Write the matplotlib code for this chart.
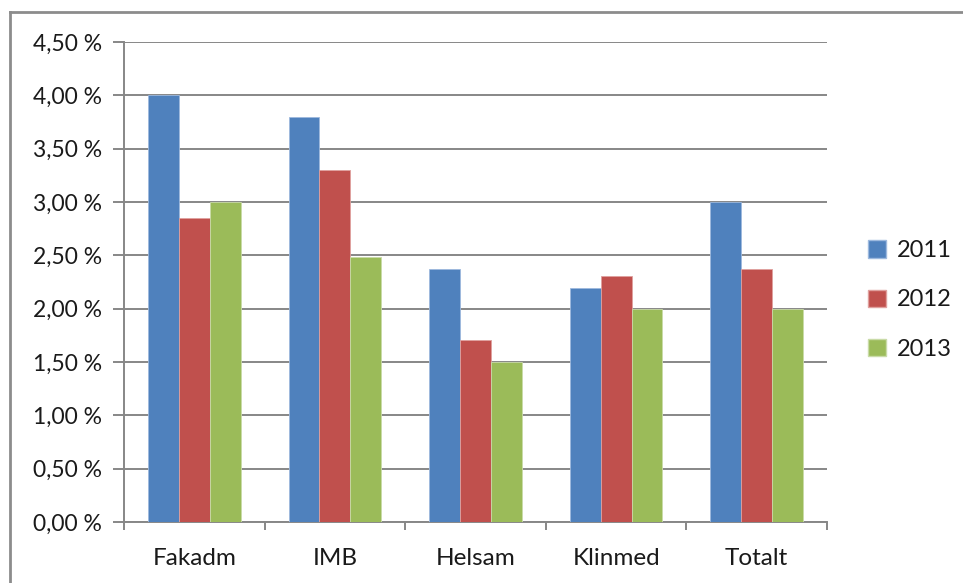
import numpy as np
import matplotlib.pyplot as plt
from matplotlib.patches import Patch
from matplotlib.lines import Line2D

categories = ["Fakadm", "IMB", "Helsam", "Klinmed", "Totalt"]
years = ["2011", "2012", "2013"]
v2011 = [4.00, 3.80, 2.37, 2.19, 3.00]
v2012 = [2.85, 3.30, 1.71, 2.31, 2.37]
v2013 = [3.00, 2.48, 1.50, 2.00, 2.00]
yticks = [0.0, 0.5, 1.0, 1.5, 2.0, 2.5, 3.0, 3.5, 4.0, 4.5]

colors = ["#4F81BD", "#C0504D", "#9BBB59"]
edges = ["#9DB9DE", "#DFA09E", "#C9DBA8"]

plt.rcParams['font.family'] = ['Lato', 'DejaVu Sans']

fig = plt.figure(figsize=(9.63, 5.83), dpi=100)
ax = fig.add_axes([124/963, 61/583, 703/963, 480/583])

x = np.arange(len(categories))
w = 0.22
for i, vals in enumerate([v2011, v2012, v2013]):
    ax.bar(x + (i - 1) * w, vals, w, color=colors[i], edgecolor=edges[i],
           linewidth=0.6, zorder=3, label=years[i])

ax.set_xlim(-0.5, len(categories) - 0.5)
ax.set_ylim(0, 4.5)
ax.set_yticks(yticks)
ax.set_yticklabels([("%.2f %%" % t).replace(".", ",") for t in yticks])
ax.yaxis.grid(True, color="#878787", linewidth=1.4, zorder=0)
ax.tick_params(axis="y", length=8, width=1.4, color="#878787", labelsize=16.5,
               pad=8, labelcolor="#1A1A1A")

ax.set_xticks(x)
ax.set_xticklabels(categories)
ax.set_xticks(np.arange(-0.5, len(categories)), minor=True)
ax.tick_params(axis="x", which="major", length=0, labelsize=17.5, pad=19,
               labelcolor="#1A1A1A")
ax.tick_params(axis="x", which="minor", length=6, width=1.4, color="#878787",
               direction="out")

for s in ["top", "right"]:
    ax.spines[s].set_visible(False)
ax.spines["left"].set_color("#878787")
ax.spines["left"].set_linewidth(1.4)
ax.spines["bottom"].set_color("#878787")
ax.spines["bottom"].set_linewidth(1.4)

handles = [Patch(facecolor=colors[i], edgecolor=edges[i], label=years[i]) for i in range(3)]
fig.legend(handles=handles, loc="center left", bbox_to_anchor=(847/963, 1 - 300/583),
           frameon=False, fontsize=17, handlelength=0.75, handleheight=0.75,
           handletextpad=0.45, labelspacing=1.2, labelcolor="#1A1A1A")

# outer chart border (top and left edges visible)
fig.add_artist(Line2D([10/963, 1], [1 - 12/583, 1 - 12/583], color="#8C8C8C", linewidth=2,
                      transform=fig.transFigure))
fig.add_artist(Line2D([10/963, 10/963], [0, 1 - 12/583], color="#8C8C8C", linewidth=2,
                      transform=fig.transFigure))

fig.savefig("out.png", dpi=100)
